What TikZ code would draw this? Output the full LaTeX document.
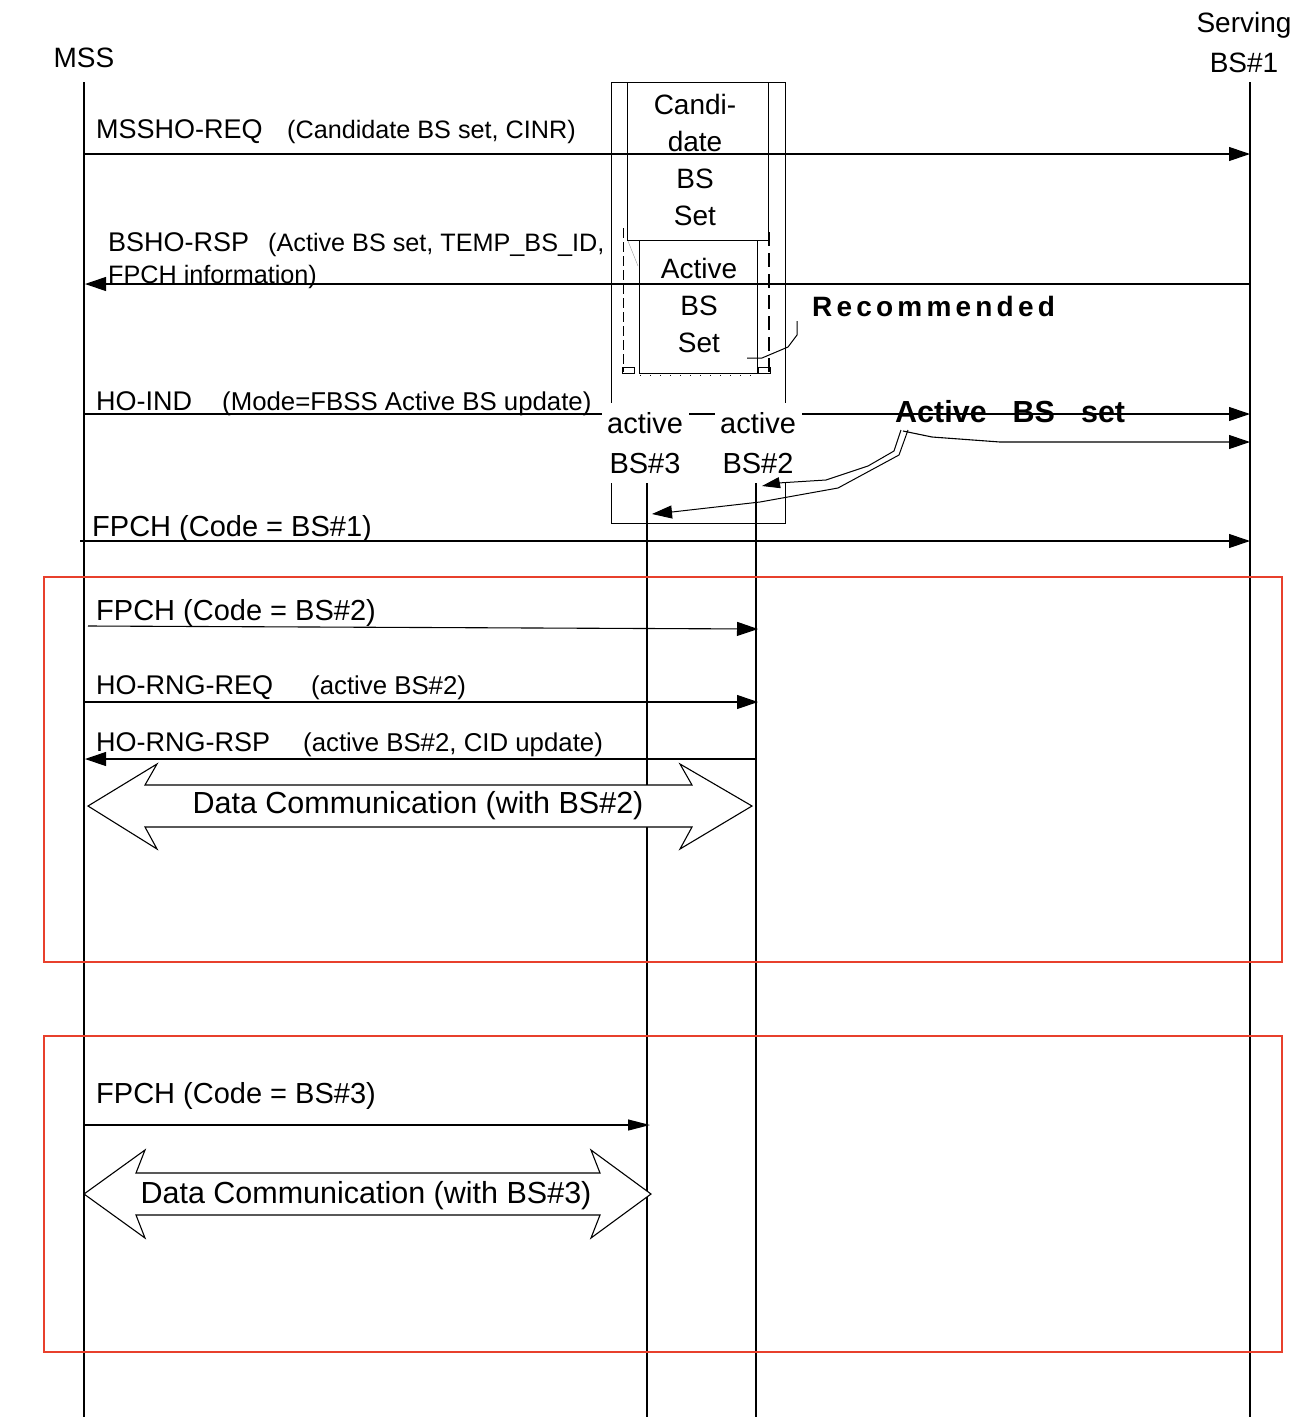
\documentclass[tikz,border=0pt]{standalone}
\usepackage{fontspec}
\setmainfont{Liberation Sans}
\usetikzlibrary{arrows.meta}
\definecolor{boxred}{RGB}{232,64,44}
\begin{document}
\begin{tikzpicture}[x=1pt,y=-1pt,
  lifeline/.style={line width=1.1pt},
  boxline/.style={line width=1pt},
  msg/.style={line width=1.1pt,-{Triangle[length=21pt,width=14pt]}},
  msgs/.style={line width=1.1pt,-{Triangle[length=22pt,width=11pt]}},
  callout/.style={line width=1pt},
  lbl/.style={inner sep=0pt,anchor=base west,font=\fontsize{27}{32}\selectfont},
  fpch/.style={inner sep=0pt,anchor=base west,font=\fontsize{29}{34}\selectfont},
  par/.style={inner sep=0pt,anchor=base west,font=\fontsize{25.8}{30}\selectfont},
  parn/.style={inner sep=0pt,anchor=base west,font=\fontsize{25.2}{30}\selectfont},
  head/.style={inner sep=0pt,align=center,font=\fontsize{28}{40}\selectfont},
  boxtxt/.style={inner sep=0pt,align=center,font=\fontsize{28}{37}\selectfont},
  actlbl/.style={inner sep=0pt,align=center,fill=white,minimum width=87pt,minimum height=80pt,font=\fontsize{29}{40}\selectfont},
  dcarrow/.style={draw,fill=white,line width=1.1pt,line join=miter},
  dctxt/.style={inner sep=0pt,font=\fontsize{30.5}{36}\selectfont},
  redbox/.style={draw=boxred,line width=1.1pt}
]
\useasboundingbox (0,0) rectangle (1300,1417);

% ---------- headers
\node[head] (mss) at (84,58) {MSS};
\node[head] (bs1) at (1244,42) {Serving\\BS\#1};

% ---------- lifelines
\coordinate (mssT) at (84,82);  \coordinate (mssB) at (84,1417);
\coordinate (bs1T) at (1250,82); \coordinate (bs1B) at (1250,1417);
\coordinate (bs3T) at (647,483); \coordinate (bs3B) at (647,1417);
\coordinate (bs2T) at (756,483); \coordinate (bs2B) at (756,1417);
\draw[lifeline] (mssT) -- (mssB);
\draw[lifeline] (bs1T) -- (bs1B);
\draw[lifeline] (bs3T) -- (bs3B);
\draw[lifeline] (bs2T) -- (bs2B);

% ---------- red boxes
\draw[redbox] (44,577) rectangle (1282,962);
\draw[redbox] (44,1036) rectangle (1282,1352);

% ---------- candidate / active BS set boxes
\draw[boxline] (611,82) rectangle (785,523);
\draw[boxline] (627,82) -- (627,240) -- (768,240) -- (768,82);
\draw[boxline] (639,240) rectangle (757,373);
\draw[line width=0.7pt,dash pattern=on 10pt off 4pt] (623,228) -- (623,372);
\draw[line width=0.5pt] (622,367) rectangle (634,373);
\draw[line width=0.5pt] (758,367) rectangle (770,373);
\draw[line width=2.6pt,dash pattern=on 14pt off 7pt] (769,232) -- (769,372);
\draw[line width=0.4pt,black!40] (628,241) -- (638,266);
\draw[line width=0.6pt,dash pattern=on 1pt off 9pt] (640,375) -- (757,375);
\node[boxtxt] (cand) at (695,160) {Candi-\\date\\BS\\Set};
\node[boxtxt] (actset) at (699,305) {Active\\BS\\Set};

% ---------- messages
\coordinate (m1a) at (84,154);  \coordinate (m1b) at (1250,154);
\coordinate (m2a) at (1250,284); \coordinate (m2b) at (85,284);
\coordinate (m3a) at (84,414);  \coordinate (m3b) at (1250,414);
\coordinate (m4a) at (80,541);  \coordinate (m4b) at (1250,541);
\coordinate (m5a) at (88,626);  \coordinate (m5b) at (758,629);
\coordinate (m6a) at (84,702);  \coordinate (m6b) at (758,702);
\coordinate (m7a) at (756,759); \coordinate (m7b) at (85,759);
\coordinate (m8a) at (84,1125); \coordinate (m8b) at (650,1125);
\draw[msg] (m1a) -- (m1b);
\draw[msg] (m2a) -- (m2b);
\draw[msg] (m3a) -- (m3b);
\draw[msg] (m4a) -- (m4b);
\draw[msg] (m5a) -- (m5b);
\draw[msg] (m6a) -- (m6b);
\draw[msg] (m7a) -- (m7b);
\draw[msgs] (m8a) -- (m8b);

\node[lbl] (l1) at (96,138) {MSSHO-REQ};
\node[parn] (p1) at (287,138) {(Candidate BS set, CINR)};
\node[lbl] (l2) at (108,251) {BSHO-RSP};
\node[parn] (p2) at (268,251) {(Active BS set, TEMP\_BS\_ID,};
\node[parn] (p2b) at (108,283) {FPCH information)};
\node[lbl] (l3) at (96,410) {HO-IND};
\node[par] (p3) at (222,410) {(Mode=FBSS Active BS update)};
\node[fpch] (l4) at (92,536) {FPCH (Code = BS\#1)};
\node[fpch] (l5) at (96,620) {FPCH (Code = BS\#2)};
\node[lbl] (l6) at (96,694) {HO-RNG-REQ};
\node[par] (p6) at (311,694) {(active BS\#2)};
\node[lbl] (l7) at (96,751) {HO-RNG-RSP};
\node[par] (p7) at (303,751) {(active BS\#2, CID update)};
\node[fpch] (l8) at (96,1103) {FPCH (Code = BS\#3)};

% ---------- active BS labels (cover lines)
\node[actlbl] (act3) at (645,443) {active\\BS\#3};
\node[actlbl] (act2) at (758,443) {active\\BS\#2};

% ---------- Recommended / Active BS set annotations
\node[inner sep=0pt,anchor=base west,font=\fontsize{28}{32}\selectfont\bfseries\addfontfeature{LetterSpace=15}] (rec) at (812,316) {Recommended};
\node[inner sep=0pt,anchor=base west,font=\fontsize{30.5}{34}\selectfont\bfseries] (abs) at (895,422) {Active\hspace{26pt}BS\hspace{26pt}set};

\coordinate (r0) at (747,358);
\coordinate (r4) at (797,321);
\draw[callout] (r0) -- (762,358) -- (788,347) -- (797,335) -- (r4);

\coordinate (a0) at (903,431);
\coordinate (a1) at (1250,442);
\draw[msg] (a0) -- (932,437) -- (1000,442) -- (a1);

\coordinate (c0) at (901,430);
\coordinate (c1) at (762,486);
\draw[callout,-{Triangle[length=18pt,width=11pt]}] (c0) -- (894,451) -- (868,466) -- (826,480) -- (778,483) -- (c1);
\coordinate (d0) at (908,430);
\coordinate (d1) at (652,514);
\draw[callout,-{Triangle[length=20pt,width=13pt]}] (d0) -- (899,455) -- (838,488) -- (760,502) -- (672,512) -- (d1);

% ---------- data communication arrows
\draw[dcarrow] (88,806) -- (157,764) -- (145,785) -- (692,785) -- (680,764) -- (752,806)
  -- (680,849) -- (692,827) -- (145,827) -- (157,849) -- cycle;
\node[dctxt] (dc2) at (418,806) {Data Communication (with BS\#2)};

\draw[dcarrow] (84,1194) -- (145,1150) -- (136,1173) -- (600,1173) -- (591,1150) -- (651,1194)
  -- (591,1238) -- (600,1215) -- (136,1215) -- (145,1238) -- cycle;
\node[dctxt] (dc3) at (366,1196) {Data Communication (with BS\#3)};
\end{tikzpicture}
\end{document}
